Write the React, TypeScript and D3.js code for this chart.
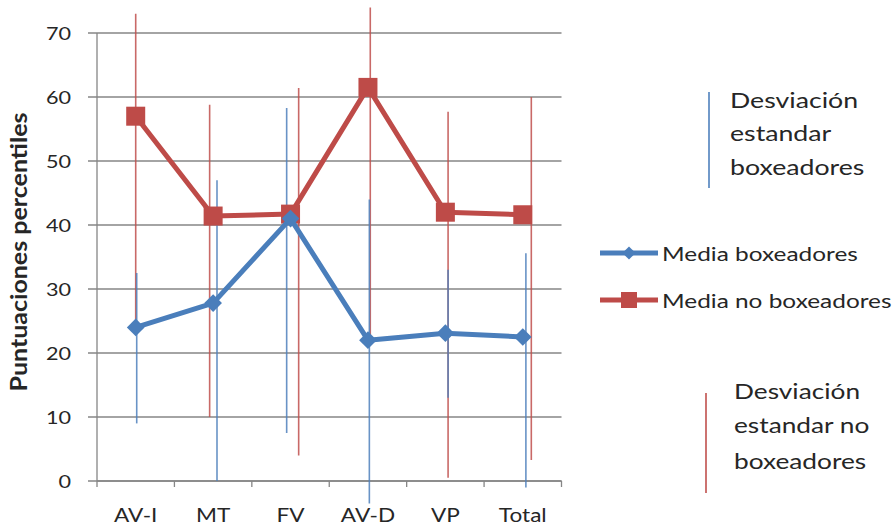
import React from "react";
import * as d3 from "d3";

const categories = ["AV-I", "MT", "FV", "AV-D", "VP", "Total"];
const mediaBox = [24, 27.8, 41, 22, 23.1, 22.5];
const mediaNoBox = [57, 41.4, 41.7, 61.5, 42, 41.6];
const sdBoxLow = [9, 0, 7.5, -3.5, 13, -1];
const sdBoxHigh = [32.5, 47, 58.3, 44, 33, 35.6];
const sdNoBoxLow = [24, 10, 4, 22, 0.5, 3.3];
const sdNoBoxHigh = [73, 58.8, 61.4, 74, 57.7, 60];
// small horizontal shift of each deviation line, in category units
const sdBoxShift = [0.013, 0.05, -0.05, 0.018, 0.035, 0.04];
const sdNoBoxShift = [0, -0.045, 0.105, 0.03, 0.035, 0.11];
const yTicks = [0, 10, 20, 30, 40, 50, 60, 70];

const W = 895;
const H = 527;
const M = { left: 97, right: 561.5, top: 33, bottom: 481 };
const BLUE = "#4a7ebb";
const RED = "#be4b48";
const SD_BLUE = "#4f81bd";
const SD_RED = "#c0504d";
const GRID = "#868686";
const FONT = "Lato, 'Open Sans', sans-serif";

const x = d3.scaleLinear().domain([0, categories.length]).range([M.left, M.right]);
const y = d3.scaleLinear().domain([0, 70]).range([M.bottom, M.top]);

function T({ x: tx, y: ty, anchor = "start", size = 18, weight = 400, rotate = 0, sx = 1.2, children, fill = "#262626" }: any) {
  const tr = rotate
    ? `translate(${tx},${ty}) rotate(${rotate}) scale(1,${sx})`
    : `translate(${tx},${ty}) scale(${sx},1)`;
  return (
    <text transform={tr} textAnchor={anchor} fontSize={size} fontWeight={weight} fontFamily={FONT} fill={fill} dominantBaseline="central">
      {children}
    </text>
  );
}

export default function App() {
  const line = d3
    .line<number>()
    .x((_, i) => x(i + 0.5))
    .y((d) => y(d));
  const diamond = d3.symbol().type(d3.symbolDiamond2);
  const bandTicks = d3.range(categories.length + 1);

  return (
    <svg width={W} height={H} style={{ position: "absolute", left: 0, top: 0, background: "#fff" }}>
      {/* gridlines */}
      {yTicks.map((t) => (
        <line key={"g" + t} x1={M.left - 9} x2={M.right} y1={y(t)} y2={y(t)} stroke={GRID} strokeWidth={1.3} />
      ))}
      {/* axes */}
      <line x1={M.left} x2={M.left} y1={M.top} y2={M.bottom} stroke={GRID} strokeWidth={1.3} />
      <line x1={M.left} x2={M.right} y1={M.bottom} y2={M.bottom} stroke={GRID} strokeWidth={1.3} />
      {bandTicks.map((i) => (
        <line key={"bt" + i} x1={x(i)} x2={x(i)} y1={M.bottom} y2={M.bottom + 6} stroke={GRID} strokeWidth={1.3} />
      ))}
      {yTicks.map((t) => (
        <T key={"yl" + t} x={71} y={y(t)} anchor="end" size={18}>
          {t}
        </T>
      ))}
      {categories.map((c, i) => (
        <T key={"xl" + c} x={x(i + 0.5)} y={515} anchor="middle" size={20} sx={1.13}>
          {c}
        </T>
      ))}
      <T x={18} y={252} anchor="middle" size={25} weight={700} rotate={-90} sx={0.95}>
        Puntuaciones percentiles
      </T>

      {/* deviation lines */}
      {categories.map((c, i) => (
        <line key={"sr" + c} x1={x(i + 0.5 + sdNoBoxShift[i])} x2={x(i + 0.5 + sdNoBoxShift[i])} y1={y(sdNoBoxHigh[i])} y2={y(sdNoBoxLow[i])} stroke={SD_RED} strokeWidth={1.6} opacity={0.85} />
      ))}
      {categories.map((c, i) => (
        <line key={"sb" + c} x1={x(i + 0.5 + sdBoxShift[i])} x2={x(i + 0.5 + sdBoxShift[i])} y1={y(sdBoxHigh[i])} y2={y(sdBoxLow[i])} stroke={SD_BLUE} strokeWidth={1.6} opacity={0.85} />
      ))}

      {/* means */}
      <path d={line(mediaNoBox) || ""} fill="none" stroke={RED} strokeWidth={5} strokeLinejoin="round" />
      {mediaNoBox.map((v, i) => (
        <rect key={"mr" + i} x={x(i + 0.5) - 9.5} y={y(v) - 9.5} width={19} height={19} fill={RED} />
      ))}
      <path d={line(mediaBox) || ""} fill="none" stroke={BLUE} strokeWidth={5} strokeLinejoin="round" />
      {mediaBox.map((v, i) => (
        <path key={"mb" + i} d={diamond.size(200)() || ""} transform={`translate(${x(i + 0.5)},${y(v)})`} fill={BLUE} />
      ))}

      {/* legend */}
      <line x1={709} x2={709} y1={92} y2={188} stroke={SD_BLUE} strokeWidth={1.6} />
      <T x={730} y={100} size={21} sx={1.27}>Desviación</T>
      <T x={730} y={133} size={21} sx={1.27}>estandar</T>
      <T x={730} y={167} size={21} sx={1.27}>boxeadores</T>

      <line x1={600} x2={658} y1={253} y2={253} stroke={BLUE} strokeWidth={5} />
      <path d={diamond.size(110)() || ""} transform="translate(629,253)" fill={BLUE} />
      <T x={662} y={253} size={20} sx={1.22}>Media boxeadores</T>

      <line x1={600} x2={658} y1={300} y2={300} stroke={RED} strokeWidth={5} />
      <rect x={621} y={292} width={16} height={16} fill={RED} />
      <T x={662} y={300} size={20} sx={1.22}>Media no boxeadores</T>

      <line x1={706} x2={706} y1={393} y2={493} stroke={SD_RED} strokeWidth={1.6} />
      <T x={734} y={391} size={21} sx={1.25}>Desviación</T>
      <T x={734} y={425} size={21} sx={1.25}>estandar no</T>
      <T x={734} y={461} size={21} sx={1.25}>boxeadores</T>
    </svg>
  );
}
